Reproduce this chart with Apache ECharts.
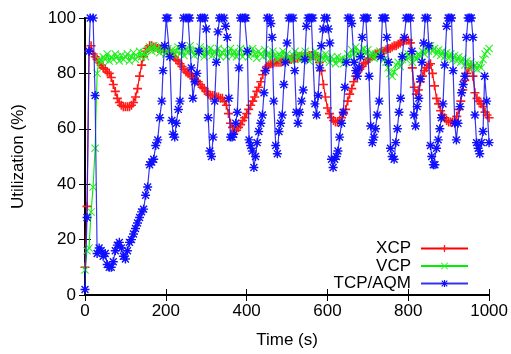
<!DOCTYPE html>
<html>
<head>
<meta charset="utf-8">
<script src="https://cdn.jsdelivr.net/npm/echarts@6/dist/echarts.min.js"></script>
<style>html,body{margin:0;padding:0;background:#fff}#c{width:511px;height:354px}</style>
</head>
<body>
<div id="c"></div>
<script>
// Time grid (s) for XCP and VCP samples
const gridTime = [0,5,10,15,20,25,30,35,40,45,50,55,60,65,70,75,80,85,90,95,
100,105,110,115,120,125,130,135,140,145,150,155,160,165,170,175,180,185,190,195,
200,205,210,215,220,225,230,235,240,245,250,255,260,265,270,275,280,285,290,295,
300,305,310,315,320,325,330,335,340,345,350,355,360,365,370,375,380,385,390,395,
400,405,410,415,420,425,430,435,440,445,450,455,460,465,470,475,480,485,490,495,
500,505,510,515,520,525,530,535,540,545,550,555,560,565,570,575,580,585,590,595,
600,605,610,615,620,625,630,635,640,645,650,655,660,665,670,675,680,685,690,695,
700,705,710,715,720,725,730,735,740,745,750,755,760,765,770,775,780,785,790,795,
800,805,810,815,820,825,830,835,840,845,850,855,860,865,870,875,880,885,890,895,
900,905,910,915,920,925,930,935,940,945,950,955,960,965,970,975,980,985,990,995,1000];

const xcp = [10,32,88,90,87,86,85,84,83,82,81.5,80.5,80,78.5,76,73.5,71,69.5,68.5,68,
68,68,68,68.5,69.5,71.5,74.5,79,83,86,88,89,90,90,89.5,89.5,89,89,89,89,
88.5,88,88,87,86,85,84.5,83.5,82.5,81.5,80.5,80,79.5,79,78,77.5,77,76,75,74.5,
73.5,72.5,72,72,72,71.5,71.5,71,71,70,68.5,65.5,62,60.5,59.5,59.5,60.5,61.5,63,64,
65.5,67,68.5,70,71.5,73.5,75,77,79.5,81,82.5,83,83.5,83.5,84,84,84,84,84.5,84.5,
85,85,85,85.5,85.5,85.5,86,86,86,86,86,86.5,86.5,86.5,86.5,86,84,81,76,71.5,
67.5,65.5,64,63,62.5,62.5,63,64,65.5,67,70,72.5,74.5,77,79,80.5,81.5,82.5,83.5,84,
85,85.5,86,86.5,87,87,87.5,88,88,88.5,89,89,89.5,90,90,90.5,91,91.5,92,92,
92,91,82,75,72.5,74,77,79,81,82,83,83.5,80,75.5,71,69,66.5,65,64,63,
62.5,62.5,62.5,63,64.5,67,70,74,77.5,80,82,83,79,73,71,70,69,68,66,65,64];

const vcp = [9,16,17,30,39,53,80,85,84,86,85,87,84.5,86,85,87,86,84.5,86.5,85,
86,87,84.5,86,87.5,85,86,88,86,87.5,86,88.5,89.5,88,90,88.5,89,87.5,89.5,88,
87,89,87.5,88.5,86.5,88,89.5,87,88,86.5,89,87.5,90,88,86.5,88.5,87,89.5,88,86,
88.5,87,89,86.5,88,87,89,86,87.5,88.5,86,87.5,89,86.5,88,86,87.5,89,86,87.5,
88.5,86,87,89,87,85.5,88,87,86,88.5,86.5,87.5,85.5,88,86.5,85,87,86,88,85.5,
87,86,84.5,86.5,88,85.5,87,85,86.5,88,86,84.5,87,85.5,88,86,84.5,86.5,85,87,
85.5,84,86,85,83.5,86,84.5,85.5,83.5,85,87,86,88.5,87,89.5,87,88,86.5,89,87,
88.5,86,87.5,85.5,87,86,88,86.5,85,84,82,80,79,80.5,83,84,82.5,85,86.5,85,
87,86,84,86.5,85,87,86,88,87,89,88,90,88,89,87,88.5,86.5,88,86,87.5,
85.5,87,85,86.5,84.5,86,84,85.5,83,84.5,82.5,84,82,83,81.5,83,82,85,87,88,89];

// TCP/AQM samples (own time stamps)
const tcpTime = [0,5,10,13,20,25,30,35,40,45,50,55,60,65,70,75,80,85,90,95,
100,105,110,115,120,125,130,135,140,145,150,155,160,165,170,175,180,185,190,193,
197,201,205,210,215,218,222,226,231,235,240,244,250,255,259,263,267,272,277,282,
286,291,296,300,305,309,313,317,321,325,329,333,338,344,348,352,356,360,364,368,
373,377,381,385,390,395,398,402,406,410,414,418,422,426,430,435,439,443,447,451,
456,460,463,467,472,476,480,484,488,492,496,500,505,510,515,519,523,527,531,536,
540,544,548,552,556,560,564,569,573,577,581,585,589,593,598,602,606,610,614,618,
622,626,630,635,639,643,647,651,656,660,666,670,674,678,682,686,690,695,699,703,
707,711,715,719,723,728,732,736,740,743,747,751,756,760,765,769,773,777,781,785,
790,795,800,805,809,814,818,822,826,830,834,838,842,847,851,855,858,862,866,870,
874,878,882,886,890,895,899,903,907,911,915,919,923,928,932,936,940,944,948,952,
956,960,965,969,973,977,981,985,989,994,1000];

const tcp = [2,28,88,100,100,72,15,17,16,14,15,11,10,10,12,16,18,19,17,14,
13,16,19,20,22,24,26,28,30,31,36,39,47,48,49,54,56,64,70,81,
90,100,100,86,63,58,57,62,67,70,90,100,100,100,100,82,71,77,80,88,
100,100,100,96,64,52,50,57,70,84,95,100,100,100,97,93,71,57,57,58,
62,66,82,100,100,100,100,88,56,54,52,46,50,55,59,62,65,73,81,100,
100,98,93,70,54,51,59,62,65,76,84,91,100,100,100,81,66,62,66,70,
74,85,97,100,100,100,100,69,65,72,82,90,96,100,100,96,91,49,46,49,
50,52,57,62,66,75,84,100,100,98,84,81,79,82,86,93,100,100,100,79,
61,55,57,60,65,70,86,100,100,100,93,84,53,50,49,55,60,66,71,86,
93,100,100,100,88,65,61,68,71,78,84,91,100,100,90,54,50,47,47,53,
56,60,64,69,83,97,100,100,100,81,62,56,62,68,73,76,79,93,100,100,
100,93,65,55,53,51,55,59,79,70,55];

const xTicks = [0,200,400,600,800,1000];
const yTicks = [0,20,40,60,80,100];

const plusSym = 'path://M4.1,0h1.8v10h-1.8z M0,4.1h10v1.8h-10z';
const crossSym = 'path://M0,0.9L0.9,0L10,9.1L9.1,10Z M0.9,10L0,9.1L9.1,0L10,0.9Z';
const starSym = 'path://M4.2,0h1.6v10h-1.6z M0,4.2h10v1.6h-10z M0.6,1.7L1.7,0.6L9.4,8.3L8.3,9.4Z M1.7,9.4L0.6,8.3L8.3,0.6L9.4,1.7Z';

function pairs(ts, vs){ return ts.map((t,i)=>[t, vs[i]]); }

const FONT = 'Liberation Sans, Arial, sans-serif';
const FS = 17;
const chart = echarts.init(document.getElementById('c'), null, {renderer:'canvas'});

const frameAxis = {
  axisLine:{show:true, lineStyle:{color:'#000', width:1.8}},
  axisTick:{show:true, inside:true, length:6, lineStyle:{color:'#000', width:1}},
  splitLine:{show:false}
};

chart.setOption({
  animation:false,
  backgroundColor:'#fff',
  grid:{left:85, right:21, top:18, bottom:57, containLabel:false},
  legend:{
    data:['XCP','VCP','TCP/AQM'],
    orient:'vertical', right:37, top:235, align:'right',
    itemWidth:47, itemHeight:9, itemGap:0.5,
    textStyle:{fontFamily:FONT, fontSize:FS, color:'#000', lineHeight:17, padding:[0,5,0,0]}
  },
  xAxis:[
    Object.assign({type:'value', min:0, max:1000, interval:200, position:'bottom',
      name:'Time (s)', nameLocation:'middle', nameGap:37,
      nameTextStyle:{fontFamily:FONT, fontSize:FS, color:'#000'},
      axisLabel:{fontFamily:FONT, fontSize:FS, color:'#000', margin:8,
        customValues:xTicks, formatter:(v)=>String(v)}
    }, frameAxis),
    Object.assign({type:'value', min:0, max:1000, interval:200, position:'top',
      axisLabel:{show:false}}, frameAxis)
  ],
  yAxis:[
    Object.assign({type:'value', min:0, max:100, interval:20, position:'left',
      name:'Utilization (%)', nameLocation:'middle', nameGap:58,
      nameTextStyle:{fontFamily:FONT, fontSize:FS, color:'#000'},
      axisLabel:{fontFamily:FONT, fontSize:FS, color:'#000', margin:9,
        customValues:yTicks, formatter:(v)=>String(v)}
    }, frameAxis),
    Object.assign({type:'value', min:0, max:100, interval:20, position:'right',
      axisLabel:{show:false}}, frameAxis)
  ],
  series:[
    {name:'XCP', type:'line', data:pairs(gridTime, xcp), symbol:plusSym, symbolSize:9,
      showAllSymbol:true, lineStyle:{color:'#ff0000', width:1.1},
      itemStyle:{color:'#ff1a1a'}, z:2},
    {name:'VCP', type:'line', data:pairs(gridTime, vcp), symbol:crossSym, symbolSize:8,
      showAllSymbol:true, lineStyle:{color:'#00ee00', width:1.1},
      itemStyle:{color:'#22ee22'}, z:3},
    {name:'TCP/AQM', type:'line', data:pairs(tcpTime, tcp), symbol:starSym, symbolSize:9,
      showAllSymbol:true, lineStyle:{color:'#1f1fee', width:1.2, opacity:0.9},
      itemStyle:{color:'#1010ff'}, z:4}
  ]
});
</script>
</body>
</html>
